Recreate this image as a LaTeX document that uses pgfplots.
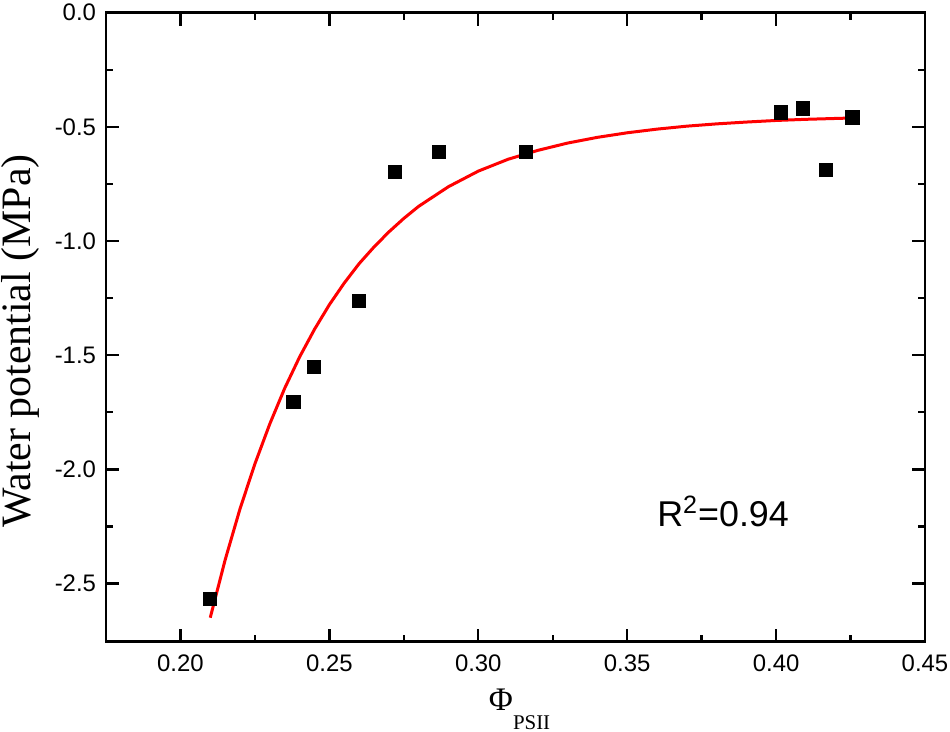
\documentclass[border=0pt]{standalone}
\usepackage{fontspec}
\setmainfont{Liberation Sans}
\newfontfamily\serif{Liberation Serif}
\usepackage{pgfplots}
\pgfplotsset{compat=1.18}
\begin{document}
\begin{tikzpicture}
\begin{axis}[
  at={(0,0)}, anchor=south west,
  scale only axis, width=409.5bp, height=314.5bp,
  xmin=0.175, xmax=0.45, ymin=-2.755, ymax=0,
  xtick={0.20,0.25,0.30,0.35,0.40,0.45},
  ytick={-2.5,-2.0,-1.5,-1.0,-0.5,0.0},
  minor x tick num=1, minor y tick num=1,
  tick align=inside,
  major tick length=6.5bp, minor tick length=3.5bp,
  axis line style={line width=1.4bp},
  every tick/.style={line width=1.2bp, black},
  /pgf/number format/assume math mode=true,
  /pgf/number format/fixed, /pgf/number format/fixed zerofill,
  xticklabel style={/pgf/number format/precision=2, font=\fontsize{12}{14}\selectfont, yshift=-3bp},
  yticklabel style={/pgf/number format/precision=1, font=\fontsize{12}{14}\selectfont, xshift=-1.5bp},
  scaled ticks=false,
  every axis y label/.style={at={(axis description cs:-0.105,0.478)}, rotate=90, anchor=center},
  ylabel={\serif\fontsize{21}{24}\selectfont Water potential (MPa)},
  every axis x label/.style={at={(axis description cs:0.505,-0.1086)}, anchor=base},
  xlabel={\serif\fontsize{16.5}{18}\selectfont Φ\raisebox{-9.5bp}{\fontsize{10.5}{12}\selectfont PSII}},
  clip=false,
]
\addplot[red, line width=1.5bp, no marks] coordinates {
(0.210,-2.650) (0.215,-2.397) (0.220,-2.173) (0.225,-1.976) (0.230,-1.801)
(0.235,-1.645) (0.240,-1.508) (0.245,-1.387) (0.250,-1.279) (0.255,-1.184)
(0.260,-1.099) (0.265,-1.026) (0.270,-0.960) (0.275,-0.901) (0.280,-0.848)
(0.290,-0.762) (0.300,-0.694) (0.310,-0.642) (0.320,-0.603) (0.330,-0.571)
(0.340,-0.546) (0.350,-0.526) (0.360,-0.510) (0.370,-0.497) (0.380,-0.487)
(0.390,-0.479) (0.400,-0.472) (0.410,-0.467) (0.426,-0.461)
};
\addplot[only marks, mark=square*, mark size=3.3bp, black] coordinates {
(0.2100,-2.568) (0.2379,-1.703) (0.2449,-1.553) (0.2600,-1.263)
(0.2719,-0.699) (0.2868,-0.608) (0.3159,-0.608) (0.4017,-0.437)
(0.4089,-0.419) (0.4168,-0.690) (0.4256,-0.459)
};
\node[anchor=base, font=\fontsize{18}{20}\selectfont] at (axis cs:0.3822,-2.25) {R\textsuperscript{2}=0.94};
\end{axis}
\pgfresetboundingbox
\path[use as bounding box] (-53bp,-45.15bp) rectangle (422bp,320.85bp);
\end{tikzpicture}
\end{document}
